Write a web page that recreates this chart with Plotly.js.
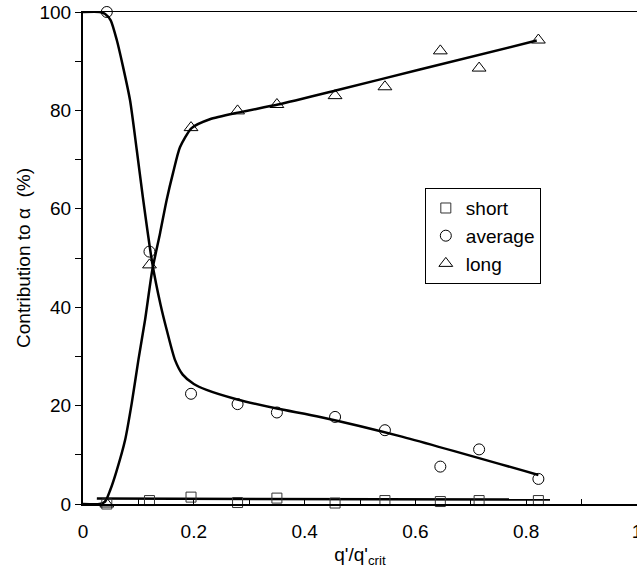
<!DOCTYPE html>
<html>
<head>
<meta charset="utf-8">
<script src="https://cdn.plot.ly/plotly-3.0.1.min.js"></script>
<style>html,body{margin:0;padding:0;background:#fff;}#chart{width:637px;height:576px;}</style>
</head>
<body>
<div id="chart"></div>
<script>
// measured data points
const xPts = [0.043, 0.12, 0.195, 0.279, 0.35, 0.455, 0.545, 0.645, 0.715, 0.822];
const shortPts = [0.0, 0.7, 1.4, 0.3, 1.2, 0.2, 0.7, 0.5, 0.7, 0.7];
const averagePts = [100.0, 51.3, 22.4, 20.3, 18.6, 17.7, 15.0, 7.6, 11.1, 5.1];
const longPts = [0.0, 48.6, 76.5, 79.9, 81.2, 83.0, 84.8, 92.1, 88.6, 94.3];

// fitted curves
const shortFitX = [0.025, 0.843];
const shortFitY = [1.1, 0.9];
const avgFitX = [0, 0.03, 0.04, 0.05, 0.061, 0.072, 0.085, 0.097, 0.108, 0.125, 0.14, 0.152, 0.166, 0.18, 0.2, 0.223, 0.277, 0.35, 0.428, 0.572, 0.822];
const avgFitY = [100, 100, 99.6, 98.3, 94.3, 89, 82, 72, 62.4, 49, 40.5, 35, 29.3, 26.3, 24.4, 23.2, 21.3, 19.4, 17.7, 13.8, 5.9];
const longFitX = [0, 0.03, 0.04, 0.049, 0.06, 0.076, 0.088, 0.1, 0.112, 0.125, 0.139, 0.151, 0.163, 0.175, 0.196, 0.229, 0.282, 0.352, 0.458, 0.608, 0.819];
const longFitY = [0, 0, 0.5, 2.8, 6.5, 13, 20.5, 29.3, 37.4, 47.5, 55, 61.8, 67.5, 72.5, 76.4, 78.2, 79.6, 81.2, 84.1, 88.3, 94.2];

const seriesNames = ['short', 'average', 'long'];
const xTickVals = [0, 0.2, 0.4, 0.6, 0.8, 1];
const xTickText = ['0', '0.2', '0.4', '0.6', '0.8', '1'];

const FONT = 'Liberation Sans, Arial, sans-serif';
const lineStyle = {color: '#000', width: 2.5};

const traces = [
  {x: shortFitX, y: shortFitY, mode: 'lines', line: lineStyle, showlegend: false, hoverinfo: 'skip'},
  {x: avgFitX, y: avgFitY, mode: 'lines', line: Object.assign({shape: 'spline', smoothing: 0.6}, lineStyle), showlegend: false, hoverinfo: 'skip', cliponaxis: false},
  {x: longFitX, y: longFitY, mode: 'lines', line: Object.assign({shape: 'spline', smoothing: 0.6}, lineStyle), showlegend: false, hoverinfo: 'skip', cliponaxis: false},
  {x: xPts, y: shortPts, name: seriesNames[0], mode: 'markers', legendgroup: 'a', cliponaxis: false,
   marker: {symbol: 'square-open', size: 10, color: '#333', line: {width: 1, color: '#333'}}},
  {x: xPts, y: averagePts, name: seriesNames[1], mode: 'markers', legendgroup: 'b', cliponaxis: false,
   marker: {symbol: 'circle-open', size: 11, color: '#000', line: {width: 1, color: '#000'}}},
  {x: xPts, y: longPts, name: seriesNames[2], mode: 'markers', legendgroup: 'c', cliponaxis: false,
   marker: {symbol: 'triangle-up-open', size: 12, color: '#000', line: {width: 1, color: '#000'}}}
];

const layout = {
  width: 637, height: 576,
  margin: {l: 83, r: 0, t: 12, b: 72},
  paper_bgcolor: '#fff', plot_bgcolor: '#fff',
  font: {family: FONT, size: 19, color: '#000'},
  showlegend: true,
  legend: {x: 0.617, y: 0.642, xanchor: 'left', yanchor: 'top', bordercolor: '#000', borderwidth: 1,
           bgcolor: '#fff', font: {family: FONT, size: 19}, traceorder: 'grouped', tracegroupgap: 0},
  xaxis: {
    range: [0, 1], tickmode: 'array', tickvals: xTickVals, ticktext: xTickText,
    ticks: 'inside', ticklen: 5, tickwidth: 1, tickcolor: '#000',
    minor: {dtick: 0.1, ticks: 'inside', ticklen: 5, tickwidth: 1, tickcolor: '#000', showgrid: false},
    showline: true, linecolor: '#000', linewidth: 1.5, mirror: true,
    showgrid: false, zeroline: false, ticklabelstandoff: 10, ticklabeloverflow: 'allow',
    title: {text: "q'/q'<sub>crit</sub>", font: {family: FONT, size: 19}, standoff: 6}
  },
  yaxis: {
    range: [0, 100], dtick: 20, tick0: 0,
    ticks: 'outside', ticklen: 6, tickwidth: 1, tickcolor: '#000',
    minor: {dtick: 10, ticks: 'outside', ticklen: 6, tickwidth: 1, tickcolor: '#000', showgrid: false},
    showline: true, linecolor: '#000', linewidth: 2,
    showgrid: false, zeroline: false,
    title: {text: 'Contribution to α  (%)', font: {family: FONT, size: 19}, standoff: 4}
  }
};

Plotly.newPlot('chart', traces, layout, {displayModeBar: false, staticPlot: true});
</script>
</body>
</html>
